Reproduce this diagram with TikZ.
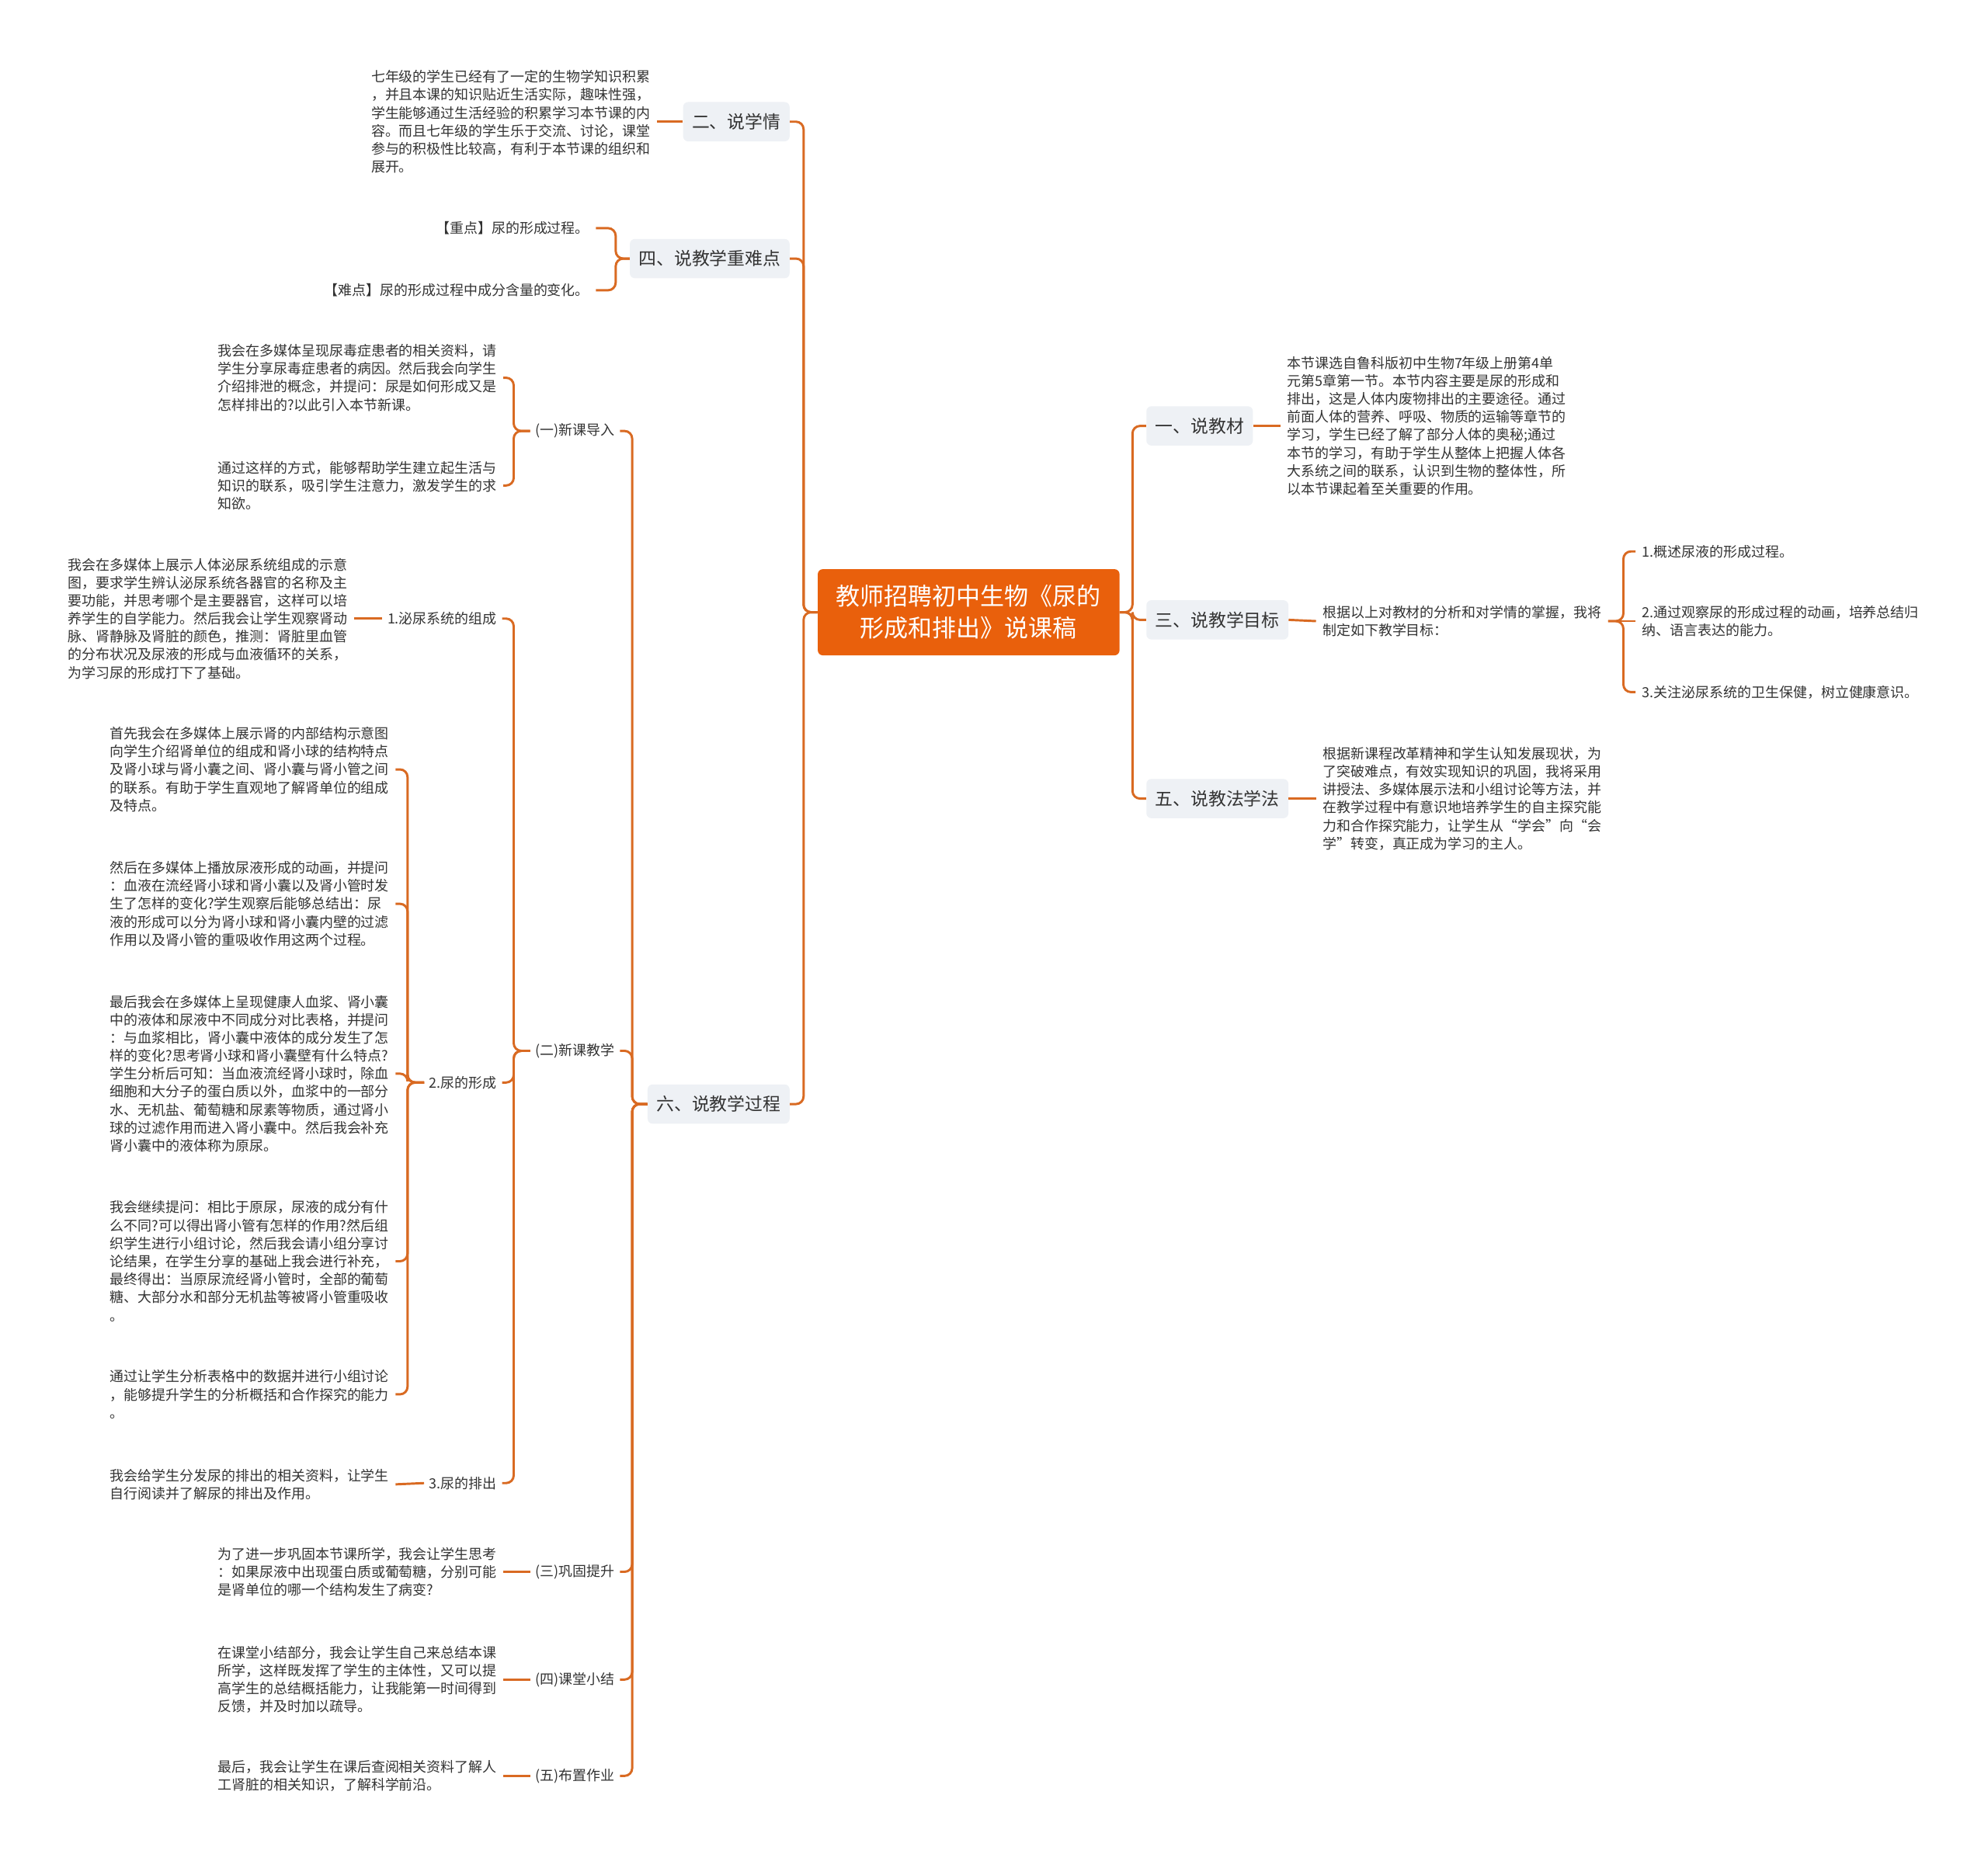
\documentclass[tikz,border=0pt]{standalone}
\usepackage{fontspec}
\newfontfamily\cjkfont{Noto Sans CJK SC}
\definecolor{rootfill}{HTML}{E9600C}
\definecolor{linkcol}{HTML}{D96A22}
\definecolor{topicfill}{HTML}{EEF1F5}
\definecolor{inkcol}{HTML}{333333}

\begin{document}
\begin{tikzpicture}[x=1pt, y=-1pt,
      root/.style={fill=rootfill, rounded corners=4pt, text=white, align=center,
        minimum width=238pt, minimum height=68pt, font=\cjkfont\fontsize{19}{25}\selectfont},
      topic/.style={fill=topicfill, rounded corners=4pt, text=inkcol, inner xsep=7pt,
        minimum height=31pt, font=\cjkfont\fontsize{14}{17}\selectfont},
      sub/.style={text=inkcol, inner xsep=4pt, font=\cjkfont\fontsize{11}{14.2}\selectfont},
      leaf/.style={text=inkcol, inner xsep=5pt, align=left, font=\cjkfont\fontsize{11}{14.2}\selectfont},
      link/.style={draw=linkcol, line width=1.8pt, rounded corners=6pt}]
    \fill[white] (0,0) rectangle (1568,1468);
    \useasboundingbox (0,0) rectangle (1568,1468);

    \node[root] (r) at (764,483) {教师招聘初中生物《尿的\\形成和排出》说课稿};

    \node[topic, anchor=east] (t2) at (623,96) {二、说学情};
    \node[topic, anchor=east] (t4) at (623,204) {四、说教学重难点};
    \node[topic, anchor=east] (t6) at (623,871) {六、说教学过程};
    \node[topic, anchor=west] (t1) at (904,336) {一、说教材};
    \node[topic, anchor=west] (t3) at (904,489) {三、说教学目标};
    \node[topic, anchor=west] (t5) at (904,630) {五、说教法学法};

    \node[leaf, anchor=east] (l2) at (518,96) {七年级的学生已经有了一定的生物学知识积累\\，并且本课的知识贴近生活实际，趣味性强，\\学生能够通过生活经验的积累学习本节课的内\\容。而且七年级的学生乐于交流、讨论，课堂\\参与的积极性比较高，有利于本节课的组织和\\展开。};
    \node[leaf, anchor=east] (k1) at (470,180) {【重点】尿的形成过程。};
    \node[leaf, anchor=east] (k2) at (470,229) {【难点】尿的形成过程中成分含量的变化。};

    \node[sub, anchor=east] (s1) at (489,340) {(一)新课导入};
    \node[sub, anchor=east] (s2) at (489,829) {(二)新课教学};
    \node[sub, anchor=east] (s3) at (489,1240) {(三)巩固提升};
    \node[sub, anchor=east] (s4) at (489,1325) {(四)课堂小结};
    \node[sub, anchor=east] (s5) at (489,1401) {(五)布置作业};

    \node[leaf, anchor=east] (d1) at (397,298) {我会在多媒体呈现尿毒症患者的相关资料，请\\学生分享尿毒症患者的病因。然后我会向学生\\介绍排泄的概念，并提问：尿是如何形成又是\\怎样排出的?以此引入本节新课。};
    \node[leaf, anchor=east] (d2) at (397,383) {通过这样的方式，能够帮助学生建立起生活与\\知识的联系，吸引学生注意力，激发学生的求\\知欲。};

    \node[sub, anchor=east] (u1) at (396,488) {1.泌尿系统的组成};
    \node[sub, anchor=east] (u2) at (396,854) {2.尿的形成};
    \node[sub, anchor=east] (u3) at (396,1170) {3.尿的排出};

    \node[leaf, anchor=east] (m1) at (279,488) {我会在多媒体上展示人体泌尿系统组成的示意\\图，要求学生辨认泌尿系统各器官的名称及主\\要功能，并思考哪个是主要器官，这样可以培\\养学生的自学能力。然后我会让学生观察肾动\\脉、肾静脉及肾脏的颜色，推测：肾脏里血管\\的分布状况及尿液的形成与血液循环的关系，\\为学习尿的形成打下了基础。};

    \node[leaf, anchor=east] (f1) at (312,607) {首先我会在多媒体上展示肾的内部结构示意图\\向学生介绍肾单位的组成和肾小球的结构特点\\及肾小球与肾小囊之间、肾小囊与肾小管之间\\的联系。有助于学生直观地了解肾单位的组成\\及特点。};
    \node[leaf, anchor=east] (f2) at (312,713) {然后在多媒体上播放尿液形成的动画，并提问\\：血液在流经肾小球和肾小囊以及肾小管时发\\生了怎样的变化?学生观察后能够总结出：尿\\液的形成可以分为肾小球和肾小囊内壁的过滤\\作用以及肾小管的重吸收作用这两个过程。};
    \node[leaf, anchor=east] (f3) at (312,847) {最后我会在多媒体上呈现健康人血浆、肾小囊\\中的液体和尿液中不同成分对比表格，并提问\\：与血浆相比，肾小囊中液体的成分发生了怎\\样的变化?思考肾小球和肾小囊壁有什么特点?\\学生分析后可知：当血液流经肾小球时，除血\\细胞和大分子的蛋白质以外，血浆中的一部分\\水、无机盐、葡萄糖和尿素等物质，通过肾小\\球的过滤作用而进入肾小囊中。然后我会补充\\肾小囊中的液体称为原尿。};
    \node[leaf, anchor=east] (f4) at (312,995) {我会继续提问：相比于原尿，尿液的成分有什\\么不同?可以得出肾小管有怎样的作用?然后组\\织学生进行小组讨论，然后我会请小组分享讨\\论结果，在学生分享的基础上我会进行补充，\\最终得出：当原尿流经肾小管时，全部的葡萄\\糖、大部分水和部分无机盐等被肾小管重吸收\\。};
    \node[leaf, anchor=east] (f5) at (312,1100) {通过让学生分析表格中的数据并进行小组讨论\\，能够提升学生的分析概括和合作探究的能力\\。};

    \node[leaf, anchor=east] (p1) at (312,1171) {我会给学生分发尿的排出的相关资料，让学生\\自行阅读并了解尿的排出及作用。};

    \node[leaf, anchor=east] (q3) at (397,1240) {为了进一步巩固本节课所学，我会让学生思考\\：如果尿液中出现蛋白质或葡萄糖，分别可能\\是肾单位的哪一个结构发生了病变?};
    \node[leaf, anchor=east] (q4) at (397,1325) {在课堂小结部分，我会让学生自己来总结本课\\所学，这样既发挥了学生的主体性，又可以提\\高学生的总结概括能力，让我能第一时间得到\\反馈，并及时加以疏导。};
    \node[leaf, anchor=east] (q5) at (397,1401) {最后，我会让学生在课后查阅相关资料了解人\\工肾脏的相关知识，了解科学前沿。};

    \node[leaf, anchor=west] (l1) at (1010,336) {本节课选自鲁科版初中生物7年级上册第4单\\元第5章第一节。本节内容主要是尿的形成和\\排出，这是人体内废物排出的主要途径。通过\\前面人体的营养、呼吸、物质的运输等章节的\\学习，学生已经了解了部分人体的奥秘;通过\\本节的学习，有助于学生从整体上把握人体各\\大系统之间的联系，认识到生物的整体性，所\\以本节课起着至关重要的作用。};
    \node[leaf, anchor=west] (g0) at (1038,490) {根据以上对教材的分析和对学情的掌握，我将\\制定如下教学目标：};
    \node[leaf, anchor=west] (g1) at (1290,435) {1.概述尿液的形成过程。};
    \node[leaf, anchor=west] (g2) at (1290,490) {2.通过观察尿的形成过程的动画，培养总结归\\纳、语言表达的能力。};
    \node[leaf, anchor=west] (g3) at (1290,546) {3.关注泌尿系统的卫生保健，树立健康意识。};
    \node[leaf, anchor=west] (l5) at (1038,630) {根据新课程改革精神和学生认知发展现状，为\\了突破难点，有效实现知识的巩固，我将采用\\讲授法、多媒体展示法和小组讨论等方法，并\\在教学过程中有意识地培养学生的自主探究能\\力和合作探究能力，让学生从“学会”向“会\\学”转变，真正成为学习的主人。};

    \draw[link] (r.west) -- ++(-11,0) |- (t2.east);
    \draw[link] (r.west) -- ++(-11,0) |- (t4.east);
    \draw[link] (r.west) -- ++(-11,0) |- (t6.east);
    \draw[link] (r.east) -- ++(10,0) |- (t1.west);
    \draw[link] (r.east) -- ++(10,0) |- (t3.west);
    \draw[link] (r.east) -- ++(10,0) |- (t5.west);

    \draw[link] (t2.west) -- (l2.east);
    \draw[link] (t4.west) -- ++(-11,0) |- (k1.east);
    \draw[link] (t4.west) -- ++(-11,0) |- (k2.east);

    \draw[link] (t6.west) -- ++(-12,0) |- (s1.east);
    \draw[link] (t6.west) -- ++(-12,0) |- (s2.east);
    \draw[link] (t6.west) -- ++(-12,0) |- (s3.east);
    \draw[link] (t6.west) -- ++(-12,0) |- (s4.east);
    \draw[link] (t6.west) -- ++(-12,0) |- (s5.east);

    \draw[link] (s1.west) -- ++(-13,0) |- (d1.east);
    \draw[link] (s1.west) -- ++(-13,0) |- (d2.east);

    \draw[link] (s2.west) -- ++(-13,0) |- (u1.east);
    \draw[link] (s2.west) -- ++(-13,0) |- (u2.east);
    \draw[link] (s2.west) -- ++(-13,0) |- (u3.east);

    \draw[link] (u1.west) -- (m1.east);
    \draw[link] (u2.west) -- ++(-13,0) |- (f1.east);
    \draw[link] (u2.west) -- ++(-13,0) |- (f2.east);
    \draw[link] (u2.west) -- ++(-13,0) |- (f3.east);
    \draw[link] (u2.west) -- ++(-13,0) |- (f4.east);
    \draw[link] (u2.west) -- ++(-13,0) |- (f5.east);
    \draw[link] (u3.west) -- (p1.east);

    \draw[link] (s3.west) -- (q3.east);
    \draw[link] (s4.west) -- (q4.east);
    \draw[link] (s5.west) -- (q5.east);

    \draw[link] (t1.east) -- (l1.west);
    \draw[link] (t3.east) -- (g0.west);
    \draw[link] (g0.east) -- ++(12,0) |- (g1.west);
    \draw[link] (g0.east) -- (g2.west);
    \draw[link] (g0.east) -- ++(12,0) |- (g3.west);
    \draw[link] (t5.east) -- (l5.west);
  \end{tikzpicture}
\end{document}
